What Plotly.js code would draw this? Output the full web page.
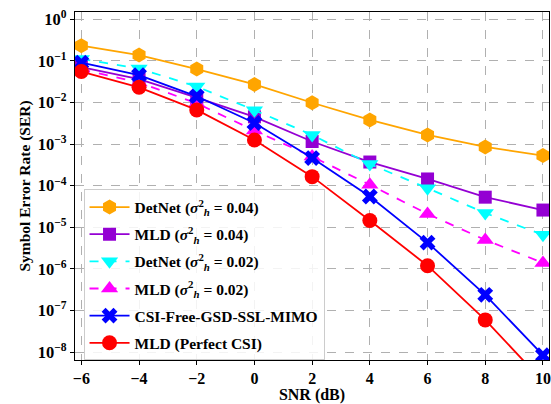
<!DOCTYPE html>
<html>
<head>
<meta charset="utf-8">
<script src="https://cdn.plot.ly/plotly-3.0.1.min.js"></script>
<style>body{margin:0;padding:0;background:#fff;} #chart{width:551px;height:404px;}</style>
</head>
<body>
<div id="chart"></div>
<script>
const snr = [-6, -4, -2, 0, 2, 4, 6, 8, 10];
const detnet004 = [0.23, 0.137, 0.063, 0.027, 0.0098, 0.0038, 0.00165, 0.00085, 0.00053];
const mld004 = [0.07, 0.036, 0.013, 0.0045, 0.00115, 0.00037, 0.000145, 0.000053, 0.000026];
const detnet002 = [0.11, 0.065, 0.024, 0.0065, 0.00165, 0.00033, 0.000087, 0.000022, 0.0000066];
const mld002 = [0.062, 0.03, 0.0095, 0.0021, 0.0005, 0.000105, 0.000021, 0.000005, 0.0000014];
const csiFree = [0.09, 0.045, 0.014, 0.0032, 0.00046, 0.000055, 0.0000043, 0.00000024, 0.0000000085];
const mldPerfect = [0.055, 0.023, 0.0066, 0.00125, 0.000165, 0.0000146, 0.0000012, 0.00000006, 0.000000002];

const names = [
  "DetNet (<i>σ</i><sup>2</sup><sub><i>h</i></sub> = 0.04)",
  "MLD (<i>σ</i><sup>2</sup><sub><i>h</i></sub> = 0.04)",
  "DetNet (<i>σ</i><sup>2</sup><sub><i>h</i></sub> = 0.02)",
  "MLD (<i>σ</i><sup>2</sup><sub><i>h</i></sub> = 0.02)",
  "CSI-Free-GSD-SSL-MIMO",
  "MLD (Perfect CSI)"
];
const yTickVals = [1e-8, 1e-7, 1e-6, 1e-5, 1e-4, 1e-3, 1e-2, 1e-1, 1];
const yTickText = ["10<sup>−8</sup>", "10<sup>−7</sup>", "10<sup>−6</sup>", "10<sup>−5</sup>", "10<sup>−4</sup>", "10<sup>−3</sup>", "10<sup>−2</sup>", "10<sup>−1</sup>", "10<sup>0</sup>"];
const xTickVals = [-6, -4, -2, 0, 2, 4, 6, 8, 10];
const xTickText = ["−6", "−4", "−2", "0", "2", "4", "6", "8", "10"];

const series = [detnet004, mld004, detnet002, mld002, csiFree, mldPerfect];
const colors = ["#FFA500", "#9400D3", "#00FFFF", "#FF00FF", "#0000FF", "#FF0000"];
const symbols = ["hexagon", "square", "triangle-down", "triangle-up", "x", "circle"];
const dashes = ["solid", "solid", "dash", "dash", "solid", "solid"];
const sizes = [15, 13, 15, 15, 14, 15];

const traces = series.map((ys, i) => ({
  x: snr, y: ys, name: names[i], type: "scatter", mode: "lines+markers",
  legendgroup: "g" + i,
  line: {color: colors[i], width: 1.8, dash: dashes[i]},
  marker: {symbol: symbols[i], size: sizes[i], color: colors[i], line: {width: 0}}
}));

const font = {family: "Liberation Serif, Times New Roman, serif", color: "#000"};

const layout = {
  width: 551, height: 404,
  margin: {l: 75, r: 2, t: 12, b: 44},
  paper_bgcolor: "#fff", plot_bgcolor: "#fff",
  font: Object.assign({size: 15}, font),
  showlegend: true,
  legend: {
    x: 0.018, y: 0.49, xanchor: "left", yanchor: "top",
    bgcolor: "rgba(255,255,255,0.85)", bordercolor: "#ccc", borderwidth: 1,
    font: Object.assign({size: 15.5, weight: "bold"}, font),
    tracegroupgap: 4, itemwidth: 40
  },
  xaxis: {
    range: [-6.22, 10.21], tickvals: xTickVals, ticktext: xTickText,
    showline: true, linecolor: "#000", linewidth: 1.2, mirror: true,
    ticks: "outside", ticklen: 4, tickcolor: "#000",
    showgrid: true, gridcolor: "#b0b0b0", griddash: "dash", gridwidth: 1,
    zeroline: false, ticklabeloverflow: "allow",
    tickfont: Object.assign({size: 16, weight: "bold"}, font),
    title: {text: "<b>SNR (dB)</b>", font: Object.assign({size: 16}, font), standoff: 1}
  },
  yaxis: {
    type: "log", range: [-8.185, 0.17], tickvals: yTickVals, ticktext: yTickText,
    showline: true, linecolor: "#000", linewidth: 1.2, mirror: true,
    ticks: "outside", ticklen: 4, tickcolor: "#000",
    showgrid: true, gridcolor: "#b0b0b0", griddash: "dash", gridwidth: 1,
    zeroline: false,
    tickfont: Object.assign({size: 16.5, weight: "bold"}, font),
    title: {text: "<b>Symbol Error Rate (SER)</b>", font: Object.assign({size: 15.5}, font), standoff: 3}
  }
};

Plotly.newPlot("chart", traces, layout, {displayModeBar: false, staticPlot: true});
</script>
</body>
</html>
